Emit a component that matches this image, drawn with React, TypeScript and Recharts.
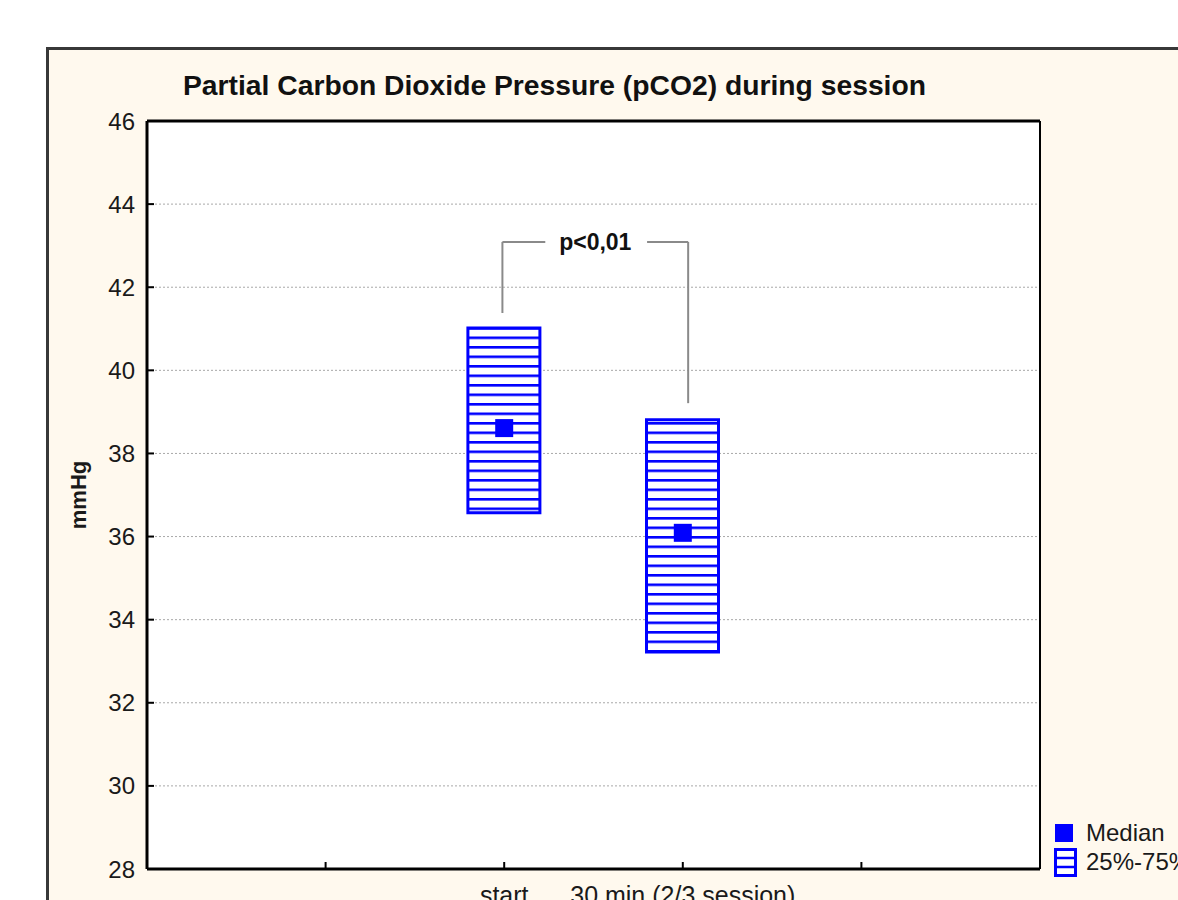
import {
  Bar,
  CartesianGrid,
  ComposedChart,
  Legend,
  ReferenceDot,
  ReferenceLine,
  Scatter,
  XAxis,
  YAxis,
} from "recharts";

const groups = ["start", "30 min (2/3 session)"];
const groupPos = [2, 3];
const q25 = [36.57, 33.22];
const q75 = [41.02, 38.81];
const medians = [38.61, 36.09];

const yTicks = [28, 30, 32, 34, 36, 38, 40, 42, 44, 46];
const xTicks = [1, 2, 3, 4];

// significance bracket between the two groups
const bracketX = [1.99, 3.03];
const bracketFoot = [41.38, 39.21];
const bracketTop = 43.09;
const bracketGap = [2.23, 2.8];
const pLabel = "p<0,01";
const pLabelX = 2.51;

const title = "Partial Carbon Dioxide Pressure (pCO2) during session";
const legendNames = ["Median", "25%-75%"];

const data = groups.map((name, i) => ({
  name,
  x: groupPos[i],
  iqr: [q25[i], q75[i]],
  median: medians[i],
}));

const BLUE = "#0000ff";
const FONT = "'Liberation Sans', Arial, sans-serif";

function xLabel(v: number) {
  const i = groupPos.indexOf(v);
  return i >= 0 ? groups[i] : "";
}

function MedianSquare(props: any) {
  const { cx, cy } = props;
  return <rect x={cx - 9} y={cy - 9} width={18} height={18} fill={BLUE} />;
}

function LegendBox() {
  return (
    <div style={{ fontFamily: FONT, fontSize: 24, color: "#1a1a1a", lineHeight: "28px" }}>
      <div style={{ display: "flex", alignItems: "center", height: 28 }}>
        <div style={{ width: 18, height: 18, background: BLUE, marginRight: 13, marginLeft: 1 }} />
        <span style={{ whiteSpace: "nowrap" }}>{legendNames[0]}</span>
      </div>
      <div style={{ display: "flex", alignItems: "center", height: 30 }}>
        <svg width={24} height={29} style={{ marginRight: 8 }}>
          <rect x={1.5} y={1.5} width={20} height={26} fill="#fff" stroke={BLUE} strokeWidth={3} />
          <line x1={1} x2={22} y1={10} y2={10} stroke={BLUE} strokeWidth={2.5} />
          <line x1={1} x2={22} y1={19} y2={19} stroke={BLUE} strokeWidth={2.5} />
        </svg>
        <span style={{ whiteSpace: "nowrap" }}>{legendNames[1]}</span>
      </div>
    </div>
  );
}

export default function App() {
  return (
    <div
      style={{
        position: "absolute",
        left: 0,
        top: 0,
        width: 1178,
        height: 900,
        overflow: "hidden",
        background: "#fff",
        fontFamily: FONT,
      }}
    >
      <div
        style={{
          position: "absolute",
          left: 46,
          top: 47,
          width: 1200,
          height: 900,
          background: "#fff9ee",
          border: "3px solid #383838",
        }}
      />
      <svg style={{ position: "absolute", left: 0, top: 0 }} width={1178} height={110}>
        <text
          x={183}
          y={95}
          fontSize={27}
          fontWeight="bold"
          fill="#111"
          textLength={743}
          lengthAdjust="spacingAndGlyphs"
          fontFamily={FONT}
        >
          {title}
        </text>
      </svg>
      <div style={{ position: "absolute", left: 0, top: 0 }}>
        <ComposedChart
          width={1178}
          height={900}
          data={data}
          margin={{ top: 120, right: 137, bottom: 0, left: 0 }}
        >
          <defs>
            <pattern id="hatch" patternUnits="userSpaceOnUse" width={8} height={9.5} y={4}>
              <rect width={8} height={9.5} fill="#fff" />
              <line x1={0} x2={8} y1={1.3} y2={1.3} stroke={BLUE} strokeWidth={2.6} />
            </pattern>
          </defs>
          <CartesianGrid
            vertical={false}
            stroke="#a8a8a8"
            strokeDasharray="2 2"
            fill="#fff"
          />
          <XAxis
            type="number"
            dataKey="x"
            domain={[0, 5]}
            ticks={xTicks}
            tickFormatter={xLabel}
            height={31}
            tickSize={-7}
            tickMargin={24}
            axisLine={{ stroke: "#000", strokeWidth: 3 }}
            tickLine={{ stroke: "#000", strokeWidth: 2 }}
            tick={{ fontSize: 25, fill: "#1a1a1a" }}
            interval={0}
          />
          <XAxis
            xAxisId="top"
            orientation="top"
            type="number"
            dataKey="x"
            domain={[0, 5]}
            ticks={xTicks}
            height={1}
            tickSize={-7}
            tick={false}
            axisLine={{ stroke: "#000", strokeWidth: 3 }}
            tickLine={{ stroke: "#000", strokeWidth: 2 }}
          />
          <YAxis
            type="number"
            domain={[28, 46]}
            ticks={yTicks}
            width={147}
            tickSize={-7}
            tickMargin={19}
            axisLine={{ stroke: "#000", strokeWidth: 3 }}
            tickLine={{ stroke: "#000", strokeWidth: 2 }}
            tick={{ fontSize: 24, fill: "#1a1a1a" }}
            interval={0}
            label={{
              content: ({ viewBox }: any) => {
                const cx = viewBox.x + 78;
                const cy = viewBox.y + viewBox.height / 2;
                return (
                  <text
                    x={cx}
                    y={cy}
                    transform={`rotate(-90, ${cx}, ${cy})`}
                    textAnchor="middle"
                    dominantBaseline="central"
                    fontSize={22}
                    fontWeight="bold"
                    fill="#1a1a1a"
                  >
                    mmHg
                  </text>
                );
              },
            }}
          />
          <YAxis
            yAxisId="right"
            orientation="right"
            type="number"
            domain={[28, 46]}
            width={1}
            tick={false}
            tickLine={false}
            axisLine={{ stroke: "#000", strokeWidth: 2 }}
          />
          <Bar
            dataKey="iqr"
            name={legendNames[1]}
            barSize={72}
            fill="url(#hatch)"
            stroke={BLUE}
            strokeWidth={3}
            isAnimationActive={false}
          />
          <Scatter
            dataKey="median"
            name={legendNames[0]}
            shape={<MedianSquare />}
            isAnimationActive={false}
          />
          <ReferenceLine
            segment={[
              { x: bracketX[0], y: bracketFoot[0] },
              { x: bracketX[0], y: bracketTop },
            ]}
            stroke="#8a8a8a"
            strokeWidth={2}
          />
          <ReferenceLine
            segment={[
              { x: bracketX[0], y: bracketTop },
              { x: bracketGap[0], y: bracketTop },
            ]}
            stroke="#8a8a8a"
            strokeWidth={2}
          />
          <ReferenceLine
            segment={[
              { x: bracketGap[1], y: bracketTop },
              { x: bracketX[1], y: bracketTop },
            ]}
            stroke="#8a8a8a"
            strokeWidth={2}
          />
          <ReferenceLine
            segment={[
              { x: bracketX[1], y: bracketTop },
              { x: bracketX[1], y: bracketFoot[1] },
            ]}
            stroke="#8a8a8a"
            strokeWidth={2}
          />
          <ReferenceDot
            x={pLabelX}
            y={bracketTop}
            r={0}
            fill="none"
            stroke="none"
            label={{
              value: pLabel,
              position: "center",
              fontSize: 23,
              fontWeight: "bold",
              fill: "#111",
            }}
          />
          <Legend
            layout="vertical"
            align="center"
            verticalAlign="middle"
            content={<LegendBox />}
            wrapperStyle={{ left: 1054, top: 819, bottom: "auto", width: 200 }}
          />
        </ComposedChart>
      </div>
    </div>
  );
}
